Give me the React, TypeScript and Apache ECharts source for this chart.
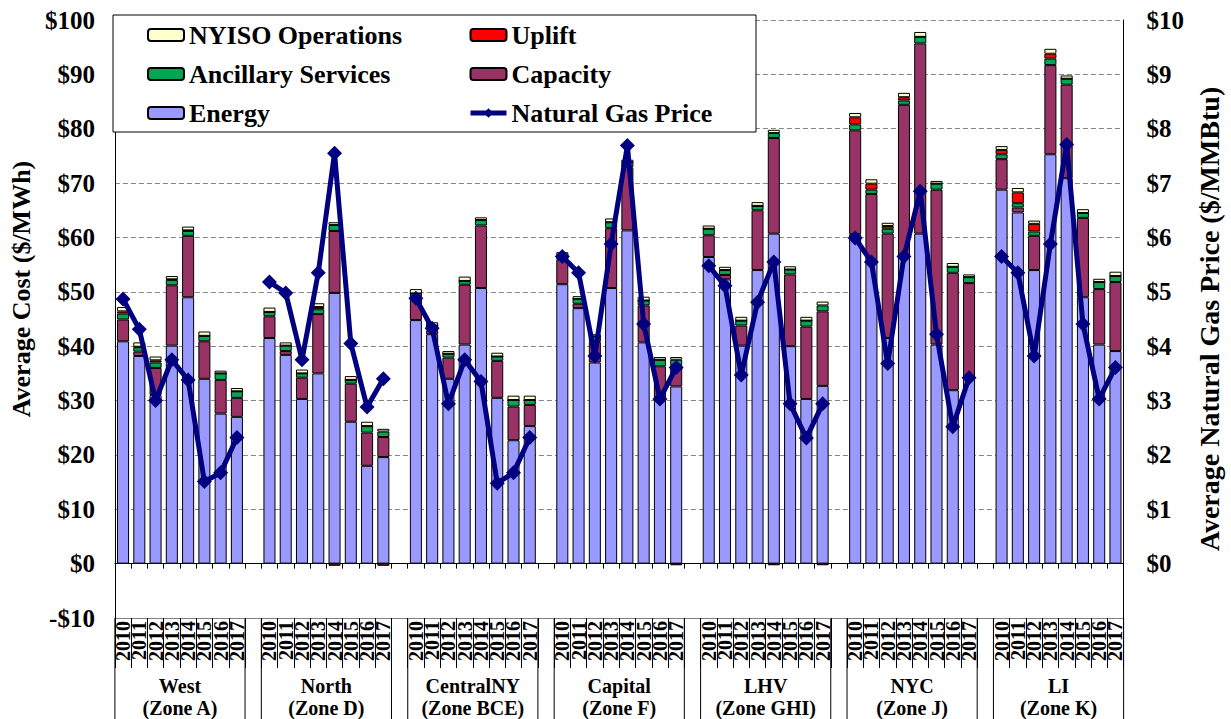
import React, { useEffect, useRef } from "react";
import * as echarts from "echarts";

const zones = ["West", "North", "CentralNY", "Capital", "LHV", "NYC", "LI"];
const zoneCodes = ["(Zone A)", "(Zone D)", "(Zone BCE)", "(Zone F)", "(Zone GHI)", "(Zone J)", "(Zone K)"];
const years = ["2010", "2011", "2012", "2013", "2014", "2015", "2016", "2017"];

// $/MWh, one row per zone, 2010..2017
const energy = [
  [40.9, 38.2, 31.0, 40.1, 49.0, 34.0, 27.6, 27.0],
  [41.5, 38.4, 30.3, 35.0, 49.8, 26.1, 18.0, 19.6],
  [44.8, 42.2, 34.0, 40.3, 50.7, 30.5, 22.7, 25.3],
  [51.4, 47.0, 37.0, 50.7, 61.3, 40.7, 30.1, 32.6],
  [56.4, 52.3, 40.1, 54.0, 60.7, 40.0, 30.3, 32.7],
  [60.6, 55.5, 41.5, 56.3, 60.7, 40.3, 31.9, 34.0],
  [68.8, 64.6, 54.0, 75.3, 70.9, 49.0, 40.3, 39.1],
];
const capacity = [
  [4.0, 0.8, 5.0, 11.1, 11.3, 6.9, 6.2, 3.5],
  [4.0, 0.7, 3.9, 10.9, 11.4, 7.0, 6.1, 3.7],
  [4.2, 0.7, 3.9, 11.0, 11.5, 6.8, 6.2, 3.9],
  [4.5, 0.8, 3.8, 11.0, 11.6, 6.8, 6.2, 3.9],
  [4.0, 0.8, 3.7, 11.0, 17.6, 13.2, 13.3, 13.7],
  [19.1, 12.5, 19.2, 28.1, 35.0, 28.5, 21.6, 17.6],
  [5.6, 0.9, 6.3, 16.4, 17.2, 14.6, 10.2, 12.7],
];
const ancillary = [
  [1.1, 0.8, 1.0, 1.0, 0.9, 1.0, 1.2, 1.2],
  [0.8, 1.0, 0.8, 0.9, 1.1, 0.7, 1.2, 1.0],
  [0.7, 0.9, 0.7, 0.7, 1.0, 0.8, 1.2, 0.9],
  [0.8, 0.9, 1.0, 1.1, 1.0, 0.9, 1.2, 1.0],
  [1.2, 0.9, 0.9, 0.8, 0.9, 0.9, 1.1, 1.1],
  [1.1, 0.8, 0.9, 0.8, 1.2, 1.1, 1.1, 1.1],
  [0.9, 0.8, 0.8, 1.2, 1.1, 0.9, 1.3, 1.1],
];
const uplift = [
  [0.4, 0.1, 0.4, 0.1, 0.1, 0, 0, 0],
  [0, 0, 0, 0.4, -0.4, 0, 0, -0.4],
  [0, 0, 0, 0, 0, 0, 0, 0],
  [0, 0, 0, 0, 0, 0, 0, -0.3],
  [0, 0, 0, 0, -0.3, 0, 0, -0.3],
  [1.3, 1.1, 0.5, 0.6, 0, 0, 0, 0],
  [0.8, 2.0, 1.4, 0.9, 0, 0, 0, 0],
];
const nyisoOps = [
  [0.8, 0.8, 0.7, 0.6, 0.7, 0.8, 0.5, 0.6],
  [0.8, 0.6, 0.7, 0.7, 0.5, 0.7, 0.8, 0.5],
  [0.8, 0.6, 0.5, 0.8, 0.5, 0.7, 0.8, 0.8],
  [0.6, 0.5, 0.4, 0.7, 0.4, 0.7, 0.5, 0.5],
  [0.6, 0.6, 0.7, 0.7, 0.6, 0.6, 0.7, 0.7],
  [0.8, 0.8, 0.6, 0.8, 0.9, 0.5, 0.7, 0.5],
  [0.7, 0.8, 0.6, 0.9, 0.6, 0.7, 0.6, 0.8],
];
// $/MMBtu
const gasPrice = [
  [4.87, 4.31, 3.0, 3.75, 3.38, 1.51, 1.67, 2.32],
  [5.18, 4.98, 3.75, 5.35, 7.55, 4.05, 2.88, 3.4],
  [4.88, 4.33, 2.94, 3.75, 3.35, 1.48, 1.67, 2.32],
  [5.65, 5.35, 3.82, 5.88, 7.69, 4.41, 3.03, 3.61],
  [5.48, 5.11, 3.47, 4.81, 5.55, 2.94, 2.31, 2.94],
  [5.99, 5.55, 3.68, 5.65, 6.85, 4.22, 2.52, 3.42],
  [5.65, 5.35, 3.82, 5.88, 7.71, 4.41, 3.03, 3.61],
];

const FONT = "'Liberation Serif', 'Times New Roman', serif";

// categories: 8 years per zone, one empty slot between zones
const categories: string[] = [];
zones.forEach((z, k) => {
  years.forEach((y) => categories.push(z + "|" + y));
  if (k < zones.length - 1) categories.push("gap" + k);
});

function flat(rows: number[][]): (number | null)[] {
  const out: (number | null)[] = [];
  rows.forEach((r, k) => {
    r.forEach((v) => out.push(v));
    if (k < rows.length - 1) out.push(null);
  });
  return out;
}

export default function App() {
  const ref = useRef<HTMLDivElement>(null);
  useEffect(() => {
    if (!ref.current) return;
    const chart = echarts.init(ref.current, null, { renderer: "svg" });
    const bar = (name: string, rows: number[][], color: string) => ({
      name,
      type: "bar",
      stack: "cost",
      xAxisIndex: 0,
      yAxisIndex: 0,
      barCategoryGap: "26%",
      data: flat(rows),
      itemStyle: { color, borderColor: "#000", borderWidth: 1 },
    });
    const legendText = { fontFamily: FONT, fontSize: 26, fontWeight: "bold", color: "#000" };
    chart.setOption({
      animation: false,
      backgroundColor: "#fff",
      grid: { left: 110, right: 101, top: 20, bottom: 101 },
      legend: [
        {
          orient: "vertical",
          left: 142,
          top: 17,
          itemWidth: 36,
          itemHeight: 12,
          itemGap: 13,
          selectedMode: false,
          z: 10,
          textStyle: legendText,
          data: ["NYISO Operations", "Ancillary Services", "Energy"],
        },
        {
          orient: "vertical",
          left: 463,
          top: 17,
          itemWidth: 36,
          itemHeight: 12,
          itemGap: 13,
          selectedMode: false,
          z: 10,
          textStyle: legendText,
          data: [
            "Uplift",
            "Capacity",
            { name: "Natural Gas Price", lineStyle: { width: 5, color: "#000080" } },
          ],
        },
      ],
      xAxis: [
        {
          type: "category",
          data: categories,
          position: "bottom",
          axisLine: { onZero: true, lineStyle: { color: "#000", width: 1 } },
          axisTick: { show: true, interval: 0, length: 5, lineStyle: { color: "#000" } },
          axisLabel: { show: false },
          splitLine: { show: false },
        },
        {
          type: "category",
          data: categories,
          position: "bottom",
          axisLine: { onZero: false, lineStyle: { color: "#808080", width: 1 } },
          axisTick: { show: true, interval: 0, length: 50, lineStyle: { color: "#000" } },
          axisLabel: {
            show: true,
            interval: 0,
            rotate: 90,
            margin: 3,
            fontFamily: FONT,
            fontSize: 20,
            fontWeight: "bold",
            color: "#000",
            formatter: (v: string) => (v.indexOf("|") >= 0 ? v.split("|")[1] : ""),
          },
          splitLine: { show: false },
        },
      ],
      yAxis: [
        {
          type: "value",
          min: -10,
          max: 100,
          interval: 10,
          position: "left",
          name: "Average Cost ($/MWh)",
          nameLocation: "middle",
          nameGap: 75,
          nameTextStyle: { fontFamily: FONT, fontSize: 26, fontWeight: "bold", color: "#000", padding: [0, 0, 0, 60] },
          axisLine: { show: true, lineStyle: { color: "#000" } },
          axisTick: { show: false },
          axisLabel: {
            fontFamily: FONT,
            fontSize: 25,
            fontWeight: "bold",
            color: "#000",
            margin: 20,
            formatter: (v: number) => (v < 0 ? "-$" + Math.abs(v) : "$" + v),
          },
          splitLine: { show: true, lineStyle: { color: "#888", type: [5, 3], width: 1 } },
        },
        {
          type: "value",
          min: -1,
          max: 10,
          interval: 1,
          position: "right",
          name: "Average Natural Gas Price ($/MMBtu)",
          nameLocation: "middle",
          nameGap: 68,
          nameTextStyle: { fontFamily: FONT, fontSize: 28, fontWeight: "bold", color: "#000" },
          axisLine: { show: true, lineStyle: { color: "#000" } },
          axisTick: { show: false },
          axisLabel: {
            fontFamily: FONT,
            fontSize: 25,
            fontWeight: "bold",
            color: "#000",
            margin: 23,
            formatter: (v: number) => (v < 0 ? "" : "$" + v),
          },
          splitLine: { show: false },
        },
      ],
      series: [
        bar("Energy", energy, "#9999FF"),
        bar("Capacity", capacity, "#993366"),
        bar("Ancillary Services", ancillary, "#00A651"),
        bar("Uplift", uplift, "#FF0000"),
        bar("NYISO Operations", nyisoOps, "#FFFFCC"),
        {
          name: "Natural Gas Price",
          type: "line",
          xAxisIndex: 0,
          yAxisIndex: 1,
          data: flat(gasPrice),
          connectNulls: false,
          showSymbol: true,
          showAllSymbol: true,
          symbol: "diamond",
          symbolSize: 15,
          z: 5,
          lineStyle: { color: "#000080", width: 5 },
          itemStyle: { color: "#000080" },
        },
      ],
    });

    // zone table below the axis, positioned from the axis scale
    const px = (c: string) => chart.convertToPixel({ xAxisIndex: 0 }, c) as number;
    const band = px(categories[1]) - px(categories[0]);
    const yTop = chart.convertToPixel({ yAxisIndex: 0 }, -10) as number;
    const H = chart.getHeight();
    const graphics: any[] = [
      {
        type: "rect",
        z: 8,
        shape: { x: 113, y: 15, width: 643, height: 117 },
        style: { fill: "#fff", stroke: "#000", lineWidth: 1 },
      },
    ];
    zones.forEach((z, k) => {
      const x0 = px(z + "|" + years[0]) - band / 2;
      const x1 = px(z + "|" + years[years.length - 1]) + band / 2;
      graphics.push({ type: "line", shape: { x1: x0, y1: yTop, x2: x0, y2: H }, style: { stroke: "#000", lineWidth: 1 } });
      graphics.push({ type: "line", shape: { x1: x1, y1: yTop, x2: x1, y2: H }, style: { stroke: "#000", lineWidth: 1 } });
      graphics.push({
        type: "text",
        x: (x0 + x1) / 2,
        y: 697,
        style: {
          text: z + "\n" + zoneCodes[k],
          fontFamily: FONT,
          fontSize: 20,
          fontWeight: "bold",
          fill: "#000",
          align: "center",
          verticalAlign: "middle",
          lineHeight: 22,
        },
      });
    });
    chart.setOption({ graphic: graphics });
    return () => chart.dispose();
  }, []);
  return <div ref={ref} style={{ position: "fixed", left: 0, top: 0, width: 1231, height: 719 }} />;
}
